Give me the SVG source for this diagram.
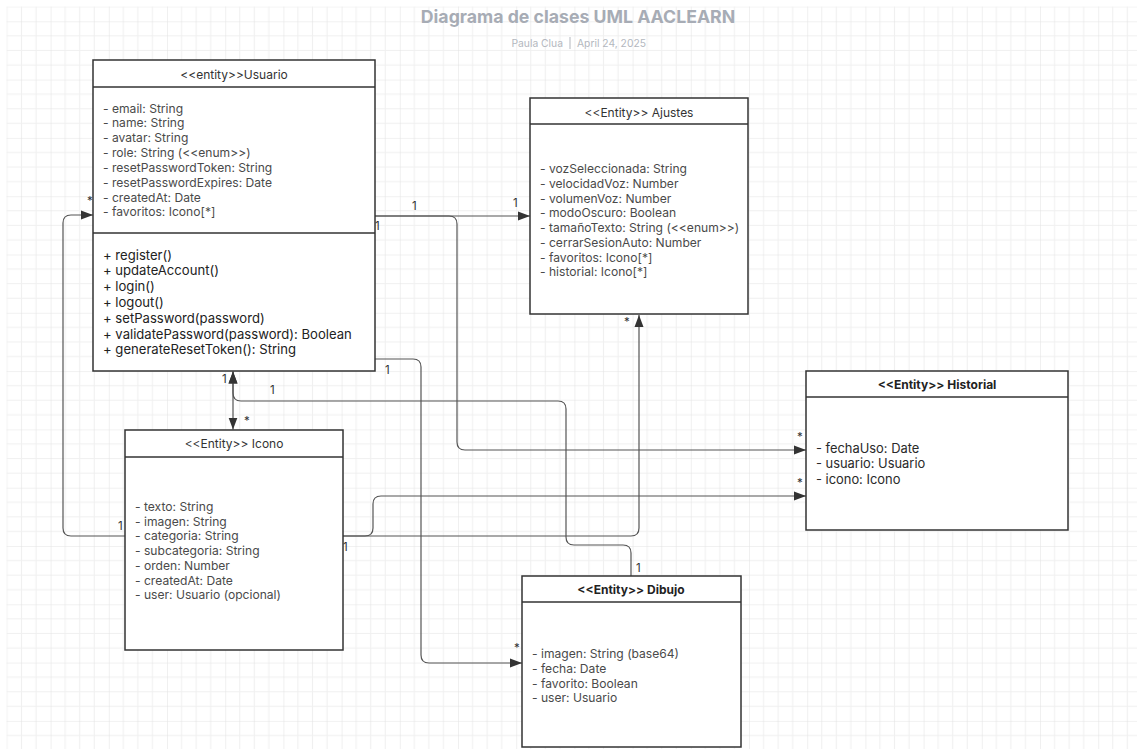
<svg xmlns="http://www.w3.org/2000/svg" width="1137" height="749" viewBox="0 0 1137 749">
<style>
.box{fill:#fff;stroke:#333;stroke-width:1.5}
.sep{stroke:#333;stroke-width:1.5}
.hd{font-family:Inter,"Liberation Sans",sans-serif;font-size:12px;fill:#333;text-anchor:middle}
.hdb{font-family:Inter,"Liberation Sans",sans-serif;font-size:12px;font-weight:bold;fill:#222;text-anchor:middle}
.at{font-family:Inter,"Liberation Sans",sans-serif;font-size:12.1px;fill:#4a4a4a}
.atd{font-family:Inter,"Liberation Sans",sans-serif;font-size:12.9px;fill:#2a2a2a}
.mt{font-family:Inter,"Liberation Sans",sans-serif;font-size:13.1px;fill:#222}
.lbl{font-family:Inter,"Liberation Sans",sans-serif;font-size:11.5px;fill:#333}
.cn{fill:none;stroke:#555;stroke-width:1.2}
</style>
<defs>
<pattern id="grid" patternUnits="userSpaceOnUse" x="50.6" y="21.3" width="58.2" height="58.3">
<rect x="0" y="0" width="58.2" height="58.3" fill="#fff"/>
<path d="M14.55,0V58.3M29.1,0V58.3M43.65,0V58.3M0,14.58H58.2M0,29.16H58.2M0,43.74H58.2" stroke="#f0f0f0" stroke-width="1"/>
<path d="M0,0V58.3M0,0H58.2" stroke="#e3e3e3" stroke-width="1"/>
</pattern>
<marker id="arr" viewBox="0 0 12 10" refX="12" refY="5" markerWidth="12" markerHeight="10" markerUnits="userSpaceOnUse" orient="auto-start-reverse">
<path d="M0,0.5L12,5L0,9.5Z" fill="#333"/>
</marker>
</defs>
<rect width="1137" height="749" fill="#fff"/>
<rect x="6.5" y="6.5" width="1131" height="743" fill="url(#grid)"/>

<g id="title">
<text x="578" y="23" font-family="Inter,'Liberation Sans',sans-serif" font-size="17.7" font-weight="bold" fill="#a7acb5" text-anchor="middle">Diagrama de clases UML AACLEARN</text>
<text x="563" y="47" font-family="Inter,'Liberation Sans',sans-serif" font-size="10.3" fill="#b3b7be" text-anchor="end">Paula Clua</text>
<line x1="570" y1="37" x2="570" y2="49" stroke="#b3b7be" stroke-width="1"/>
<text x="577" y="47" font-family="Inter,'Liberation Sans',sans-serif" font-size="10.3" fill="#b3b7be">April 24, 2025</text>
</g>

<g id="connectors">
<path class="cn" d="M375,216H530" marker-end="url(#arr)"/>
<path class="cn" d="M375,216H449Q457,216 457,224V442Q457,450 465,450H806" marker-end="url(#arr)"/>
<path class="cn" d="M375,359H413Q421,359 421,367V655Q421,663 429,663H522" marker-end="url(#arr)"/>
<path class="cn" d="M631,576V553Q631,545 623,545H574Q566,545 566,537V409Q566,401 558,401H241Q233,401 233,393V371.5" marker-end="url(#arr)"/>
<path class="cn" d="M233,371.5V429.5" marker-start="url(#arr)" marker-end="url(#arr)"/>
<path class="cn" d="M343,536H631Q639,536 639,528V315" marker-end="url(#arr)"/>
<path class="cn" d="M343,536H365Q373,536 373,528V504Q373,496 381,496H806" marker-end="url(#arr)"/>
<path class="cn" d="M125,536H71Q63,536 63,528V223Q63,215 71,215H93" marker-end="url(#arr)"/>
<text class="lbl" x="412" y="210">1</text>
<text class="lbl" x="513" y="207">1</text>
<text class="lbl" x="375" y="230">1</text>
<text class="lbl" x="797" y="441">*</text>
<text class="lbl" x="797" y="487">*</text>
<text class="lbl" x="385" y="374">1</text>
<text class="lbl" x="514" y="652">*</text>
<text class="lbl" x="270" y="394">1</text>
<text class="lbl" x="636" y="572">1</text>
<text class="lbl" x="222" y="383">1</text>
<text class="lbl" x="244" y="425">*</text>
<text class="lbl" x="624" y="326">*</text>
<text class="lbl" x="343" y="551">1</text>
<text class="lbl" x="118" y="530">1</text>
<text class="lbl" x="87" y="205">*</text>
</g>

<g id="usuario">
<rect class="box" x="93" y="60" width="282" height="311"/>
<line class="sep" x1="93" y1="87" x2="375" y2="87"/>
<line class="sep" x1="93" y1="233" x2="375" y2="233"/>
<text class="hd" x="234" y="78.5" font-size="13.3">&lt;&lt;entity&gt;&gt;Usuario</text>
<text class="at" x="103" y="112.5">- email: String</text>
<text class="at" x="103" y="127.3">- name: String</text>
<text class="at" x="103" y="142.2">- avatar: String</text>
<text class="at" x="103" y="157">- role: String (&lt;&lt;enum&gt;&gt;)</text>
<text class="at" x="103" y="171.9">- resetPasswordToken: String</text>
<text class="at" x="103" y="186.7">- resetPasswordExpires: Date</text>
<text class="at" x="103" y="201.6">- createdAt: Date</text>
<text class="at" x="103" y="216.4">- favoritos: Icono[*]</text>
<text class="mt" x="103" y="259.5">+ register()</text>
<text class="mt" x="103" y="275.3">+ updateAccount()</text>
<text class="mt" x="103" y="291.1">+ login()</text>
<text class="mt" x="103" y="306.9">+ logout()</text>
<text class="mt" x="103" y="322.7">+ setPassword(password)</text>
<text class="mt" x="103" y="338.5">+ validatePassword(password): Boolean</text>
<text class="mt" x="103" y="354.3">+ generateResetToken(): String</text>
</g>

<g id="ajustes">
<rect class="box" x="530" y="98" width="218" height="216"/>
<line class="sep" x1="530" y1="124" x2="748" y2="124"/>
<text class="hd" x="639" y="116.5">&lt;&lt;Entity&gt;&gt; Ajustes</text>
<text class="at" x="540" y="173" font-size="12">- vozSeleccionada: String</text>
<text class="at" x="540" y="187.8" font-size="12">- velocidadVoz: Number</text>
<text class="at" x="540" y="202.5" font-size="12">- volumenVoz: Number</text>
<text class="at" x="540" y="217.3" font-size="12">- modoOscuro: Boolean</text>
<text class="at" x="540" y="232" font-size="12">- tamañoTexto: String (&lt;&lt;enum&gt;&gt;)</text>
<text class="at" x="540" y="246.8" font-size="12">- cerrarSesionAuto: Number</text>
<text class="at" x="540" y="261.5" font-size="12">- favoritos: Icono[*]</text>
<text class="at" x="540" y="276.3" font-size="12">- historial: Icono[*]</text>
</g>

<g id="historial">
<rect class="box" x="806" y="371" width="262" height="159"/>
<line class="sep" x1="806" y1="397" x2="1068" y2="397"/>
<text class="hdb" x="937" y="388.5">&lt;&lt;Entity&gt;&gt; Historial</text>
<text class="atd" x="816" y="452.5">- fechaUso: Date</text>
<text class="atd" x="816" y="468.4">- usuario: Usuario</text>
<text class="atd" x="816" y="484.3">- icono: Icono</text>
</g>

<g id="icono">
<rect class="box" x="125" y="430" width="218" height="220"/>
<line class="sep" x1="125" y1="457" x2="343" y2="457"/>
<text class="hd" x="234" y="447.5">&lt;&lt;Entity&gt;&gt; Icono</text>
<text class="at" x="135" y="511">- texto: String</text>
<text class="at" x="135" y="525.7">- imagen: String</text>
<text class="at" x="135" y="540.4">- categoria: String</text>
<text class="at" x="135" y="555.1">- subcategoria: String</text>
<text class="at" x="135" y="569.8">- orden: Number</text>
<text class="at" x="135" y="584.5">- createdAt: Date</text>
<text class="at" x="135" y="599.2">- user: Usuario (opcional)</text>
</g>

<g id="dibujo">
<rect class="box" x="522" y="576" width="219" height="171"/>
<line class="sep" x1="522" y1="602" x2="741" y2="602"/>
<text class="hdb" x="631" y="593.5">&lt;&lt;Entity&gt;&gt; Dibujo</text>
<text class="at" x="532" y="658">- imagen: String (base64)</text>
<text class="at" x="532" y="672.8">- fecha: Date</text>
<text class="at" x="532" y="687.6">- favorito: Boolean</text>
<text class="at" x="532" y="702.4">- user: Usuario</text>
</g>
</svg>
